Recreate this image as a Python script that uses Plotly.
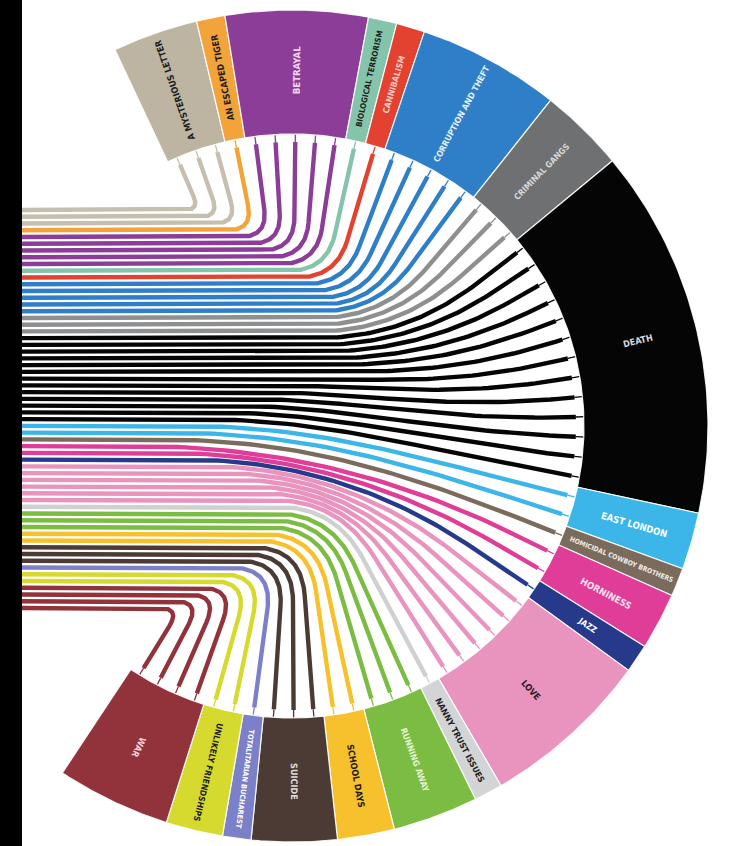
import numpy as np
import plotly.graph_objects as go

# ---------------- data ----------------
categories = ["A MYSTERIOUS LETTER", "AN ESCAPED TIGER", "BETRAYAL", "BIOLOGICAL TERRORISM",
              "CANNIBALISM", "CORRUPTION AND THEFT", "CRIMINAL GANGS", "DEATH", "EAST LONDON",
              "HOMICIDAL COWBOY BROTHERS", "HORNINESS", "JAZZ", "LOVE", "NANNY TRUST ISSUES",
              "RUNNING AWAY", "SCHOOL DAYS", "SUICIDE", "TOTALITARIAN BUCHAREST",
              "UNLIKELY FRIENDSHIPS", "WAR"]
line_counts = [3, 1, 5, 1, 1, 5, 3, 13, 2, 1, 2, 1, 6, 1, 3, 2, 3, 1, 2, 4]

seg_colors = ["#bdb4a2", "#f2a33a", "#8b3d98", "#84c4ab", "#e2422f", "#2f7fc8", "#6f7072",
              "#050505", "#3cb6e9", "#7b6b5d", "#df3d98", "#27398a", "#e993bf", "#d3d4d5",
              "#7bbd42", "#f7c12d", "#4b3b34", "#7b80c8", "#d6d92e", "#92323b"]
line_colors = ["#c6beae", "#f2a33a", "#8b3d98", "#84c4ab", "#e2422f", "#2f7fc8", "#8e8f91",
               "#050505", "#3cb6e9", "#7b6b5d", "#df3d98", "#27398a", "#e993bf", "#cfd0d1",
               "#7bbd42", "#f7c12d", "#4b3b34", "#7b80c8", "#d6d92e", "#92323b"]
label_colors = ["#1c1c1c", "#1c1c1c", "#f1d6ee", "#1c1c1c", "#f7cbc4", "#e4eefa", "#d8d8d8",
                "#d6d6d6", "#ffffff", "#f0ece8", "#fbe0ee", "#ffffff", "#2a1a22", "#1c1c1c",
                "#e8f5d8", "#1c1c1c", "#e0dcda", "#ffffff", "#1c1c1c", "#f4d6d8"]
label_sizes = [9, 9, 9.5, 8, 8.5, 8.5, 8.5, 9, 9.5, 6.8, 9.5, 8.5, 9, 8.5, 8.5, 9, 9, 7.3, 8.5, 9]

FONT = "'Liberation Sans Narrow', 'DejaVu Sans Condensed', 'Roboto Condensed', 'Arial Narrow', 'DejaVu Sans', sans-serif"

# ---------------- geometry (pixel space) ----------------
W, H = 730, 846
CX, CY = 292.0, 426.0
R_IN, R_OUT = 292.0, 416.0
R_MID = 356.0
A_START, A_END = 115.2, -123.5
LEFT_X = 22.0
Y_TOP, Y_BOT = 210.0, 608.0
N = sum(line_counts)
STEP = (A_START - A_END) / N
R_END = R_IN - 8.0
DIRECT_LIMIT = 24.0

fig = go.Figure()


def pt(r, a_deg):
    a = np.radians(a_deg)
    return CX + r * np.cos(a), CY - r * np.sin(a)


def fillet_share(a_abs):
    # tight corners for steep turns, broad sweeps for shallow ones
    if a_abs >= 60:
        return 0.3
    return 0.3 + 0.55 * (60 - a_abs) / 36.0


cat_of_line = []
for ci, c in enumerate(line_counts):
    cat_of_line += [ci] * c

thetas = [A_START - STEP * (k + 0.5) for k in range(N)]
ys = [Y_TOP + k * (Y_BOT - Y_TOP) / (N - 1) for k in range(N)]

params = []
for k in range(N):
    th = np.radians(thetas[k])
    y = ys[k]
    if abs(thetas[k]) >= DIRECT_LIMIT:
        t = (CY - y) / np.sin(th)
        qx = CX + t * np.cos(th)
        f = max(7.0, fillet_share(abs(thetas[k])) * (R_END - t))
        f = min(f, qx - 120)
        params.append(dict(mode="fillet", Sx=qx - f, rc=t + f, h=2.0 / 3.0 * f))
    else:
        params.append(dict(mode="direct"))
fill_idx = [k for k in range(N) if params[k]["mode"] == "fillet"]
for k in range(N):
    if params[k]["mode"] == "direct":
        lo = max(i for i in fill_idx if i < k)
        hi = min(i for i in fill_idx if i > k)
        w = (k - lo) / (hi - lo)
        params[k]["Sx"] = (1 - w) * params[lo]["Sx"] + w * params[hi]["Sx"]


def line_points(k):
    th = np.radians(thetas[k])
    d = np.array([np.cos(th), -np.sin(th)])
    c = np.array([CX, CY])
    y = ys[k]
    p = params[k]
    S = np.array([p["Sx"], y])
    P = c + R_END * d
    if p["mode"] == "fillet":
        R = c + p["rc"] * d
        h1 = h2 = p["h"]
    else:
        R = P
        dist = np.linalg.norm(P - S)
        h1 = 0.35 * dist
        h2 = 0.42 * dist
    B1 = S + np.array([h1, 0.0])
    B2 = R - h2 * d
    u = np.linspace(0, 1, 50)[:, None]
    cur = (1 - u) ** 3 * S + 3 * (1 - u) ** 2 * u * B1 + 3 * (1 - u) * u ** 2 * B2 + u ** 3 * R
    xs = [LEFT_X] + list(cur[:, 0]) + [P[0]]
    yy = [y] + list(cur[:, 1]) + [P[1]]
    return xs, yy, P, c + (R_IN + 2) * d


for ci in range(len(categories)):
    X, Y, SX, SY = [], [], [], []
    for k in range(N):
        if cat_of_line[k] != ci:
            continue
        xs, yy, P, Pend = line_points(k)
        X += xs + [None]
        Y += yy + [None]
        SX += [P[0], Pend[0], None]
        SY += [P[1], Pend[1], None]
    fig.add_trace(go.Scatter(x=X, y=Y, mode="lines", hoverinfo="skip",
                             line=dict(color=line_colors[ci], width=4.4)))
    fig.add_trace(go.Scatter(x=SX, y=SY, mode="lines", hoverinfo="skip",
                             line=dict(color=line_colors[ci], width=1.3)))

a0 = A_START
for ci, cat in enumerate(categories):
    a1 = a0 - STEP * line_counts[ci]
    arc = np.linspace(a0, a1, 60)
    ox, oy = pt(R_OUT, arc)
    ix, iy = pt(R_IN, arc[::-1])
    fig.add_trace(go.Scatter(x=list(ox) + list(ix) + [ox[0]], y=list(oy) + list(iy) + [oy[0]],
                             mode="lines", fill="toself", fillcolor=seg_colors[ci],
                             line=dict(color="rgba(255,255,255,0.9)", width=1.2),
                             hoverinfo="skip"))
    am = (a0 + a1) / 2
    lx, ly = pt(R_MID, am)
    fig.add_annotation(x=lx, y=ly, xref="x", yref="y", text="<b>" + cat + "</b>",
                       showarrow=False, textangle=-am,
                       font=dict(family=FONT, size=label_sizes[ci], color=label_colors[ci]))
    a0 = a1

fig.add_shape(type="rect", x0=0, x1=LEFT_X, y0=0, y1=H, fillcolor="#000000",
              line=dict(width=0), layer="above")
spark_y = [92, 240, 385, 545, 700]
spark_dx = [2, 6, 10, 4, 8, 12, 3, 7, 14, 5]
spark_dy = [-14, -8, -3, 2, 6, 0, 10, 14, -10, 4]
sx, sy = [], []
for cy in spark_y:
    for dx, dy in zip(spark_dx, spark_dy):
        sx.append(dx)
        sy.append(cy + dy)
fig.add_trace(go.Scatter(x=sx, y=sy, mode="markers", hoverinfo="skip",
                         marker=dict(color="#8a1d2a", size=3, opacity=0.85)))

fig.update_layout(width=W, height=H, margin=dict(l=0, r=0, t=0, b=0),
                  paper_bgcolor="white", plot_bgcolor="white", showlegend=False,
                  xaxis=dict(range=[0, W], visible=False, fixedrange=True),
                  yaxis=dict(range=[H, 0], visible=False, fixedrange=True))

fig.write_html("out.html", config={"displayModeBar": False},
               post_script="document.body.style.margin='0';")
